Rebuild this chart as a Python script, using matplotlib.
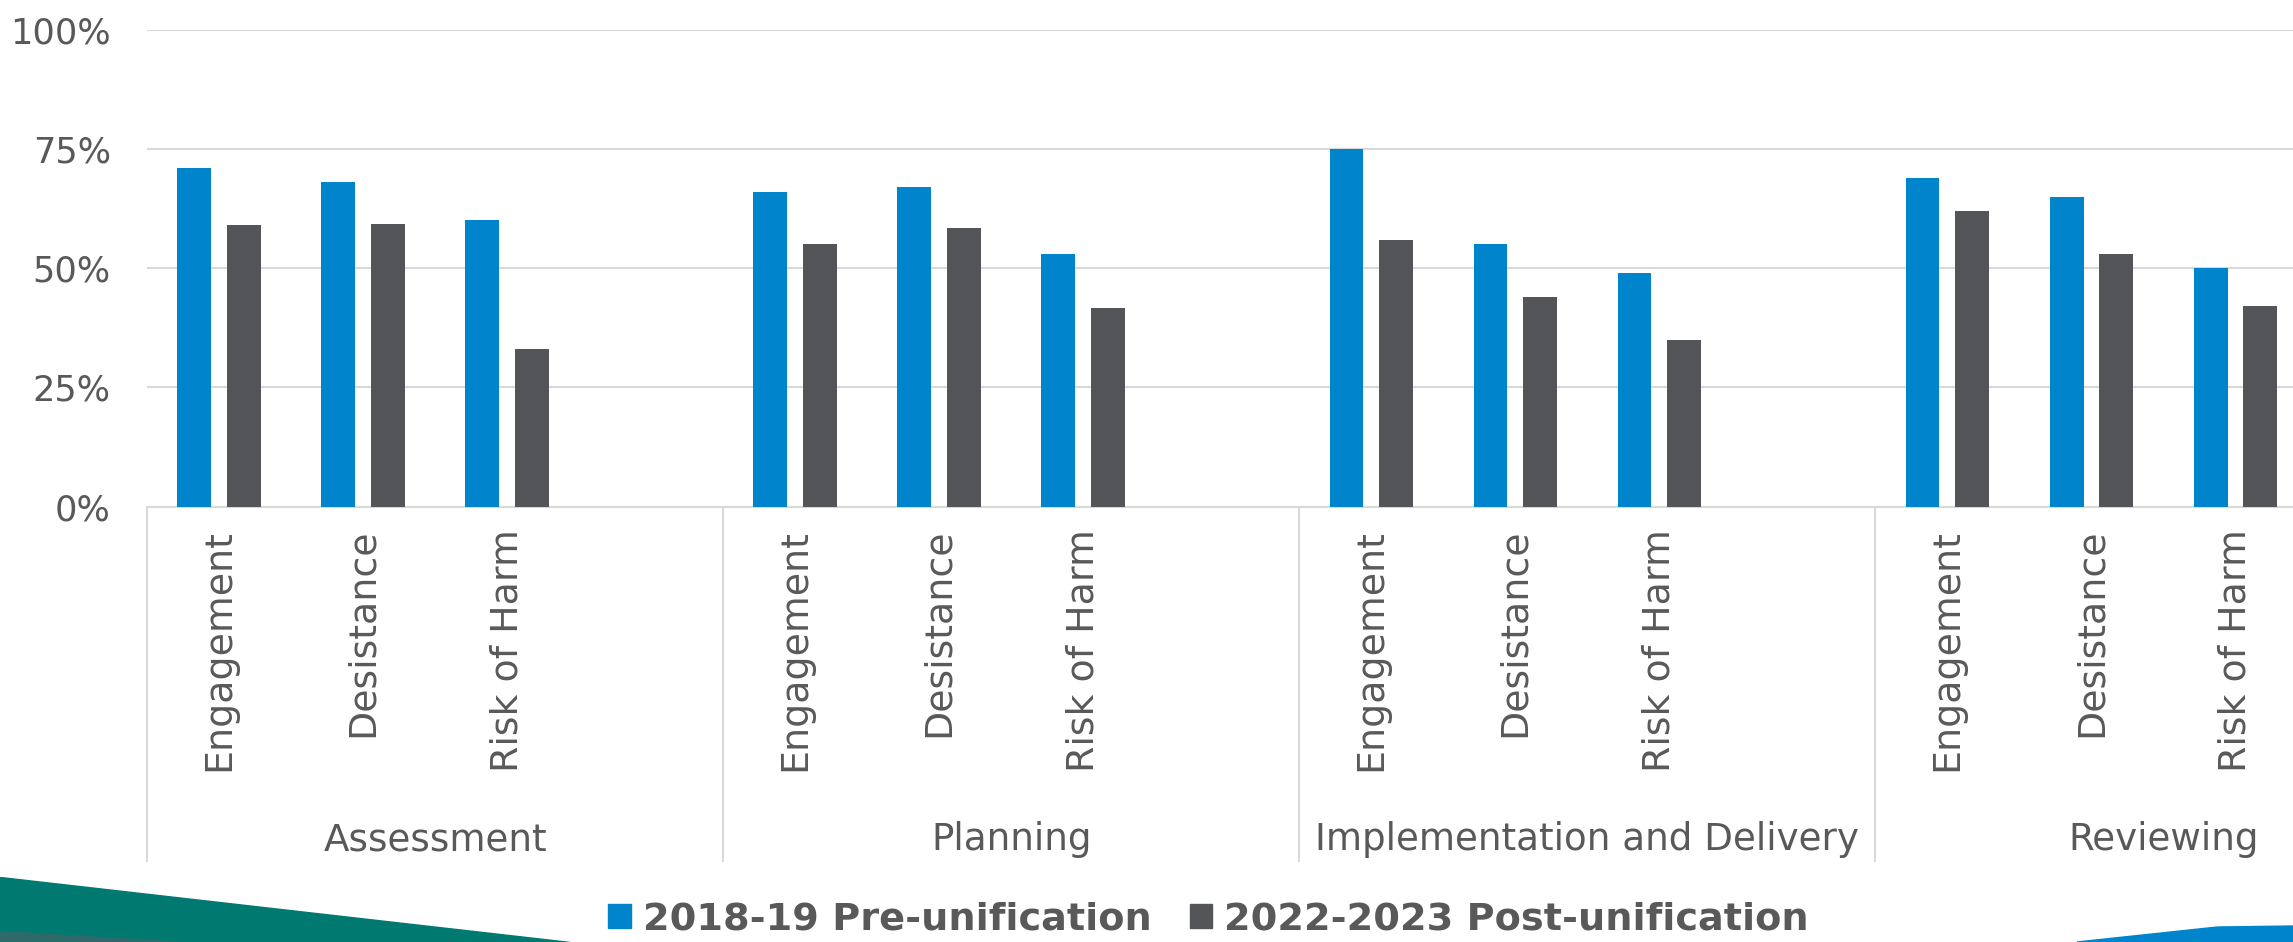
import matplotlib
matplotlib.use('Agg')
import matplotlib.pyplot as plt
from matplotlib.patches import Patch, Polygon
import matplotlib.transforms as mtransforms
import numpy as np

groups = ['Assessment', 'Planning', 'Implementation and Delivery', 'Reviewing']
measures = ['Engagement', 'Desistance', 'Risk of Harm']
pre_unification = [71, 68, 60, 66, 67, 53, 75, 55, 49, 69, 65, 50]
post_unification = [59, 59.3, 33, 55, 58.5, 41.6, 56, 44, 35, 62, 53, 42]
series_labels = ['2018-19 Pre-unification', '2022-2023 Post-unification']
yticks = [0, 25, 50, 75, 100]

blue = '#0085CC'
grey = '#545559'
text_col = '#595959'
grid_col = '#D9D9D9'

plt.rcParams['font.family'] = ['DejaVu Sans']

fig = plt.figure(figsize=(22.93, 9.42), dpi=100)
ax = fig.add_axes([0.0641, 0.4623, 0.9359, 0.5061])

# each group has 3 measures + one empty slot
slots_per_group = len(measures) + 1
x = np.array([g * slots_per_group + m for g in range(len(groups)) for m in range(len(measures))])

width = 0.235
off = 0.172
ax.bar(x - off, pre_unification, width, color=blue, zorder=3)
ax.bar(x + off, post_unification, width, color=grey, zorder=3)

ax.set_ylim(0, 100)
ax.set_xlim(-0.5, 14.4)
ax.set_yticks(yticks)
ax.set_yticklabels([f'{v}%' for v in yticks])
ax.yaxis.grid(True, color=grid_col, linewidth=1.5, zorder=0)
ax.tick_params(axis='y', length=0, pad=26, labelsize=25.3, labelcolor=text_col)
for s in ['left', 'right', 'top']:
    ax.spines[s].set_visible(False)
ax.spines['bottom'].set_color(grid_col)
ax.spines['bottom'].set_linewidth(1.5)

ax.set_xticks(x)
ax.set_xticklabels(measures * len(groups), rotation=90)
ax.tick_params(axis='x', length=0, pad=16, labelsize=27.3, labelcolor=text_col)

# group separators and group labels below the measure labels
trans = mtransforms.blended_transform_factory(ax.transData, ax.transAxes)
bounds = [g * slots_per_group - 0.5 for g in range(len(groups))]
ax.vlines(bounds, -0.745, 0, transform=trans, color=grid_col, linewidth=1.5, clip_on=False)
for g, name in enumerate(groups):
    ax.text(g * slots_per_group + (slots_per_group - 1) / 2, -0.7205, name, transform=trans,
            ha='center', va='baseline', fontsize=26.8, color=text_col, clip_on=False)

handles = [Patch(color=blue), Patch(color=grey)]
fig.legend(handles, series_labels, loc='center', bbox_to_anchor=(0.527, 0.024), ncol=2,
           frameon=False, prop={'weight': 'bold', 'size': 27.5}, labelcolor=text_col,
           handlelength=0.6, handleheight=0.6, handletextpad=0.3, columnspacing=1.0)

# slide decoration at the bottom corners
fig.patches.append(Polygon([(0, 0.069), (0, 0), (0.2486, 0)], closed=True,
                           transform=fig.transFigure, color='#007A70', zorder=0))
fig.patches.append(Polygon([(0, 0.012), (0, 0), (0.08, 0)], closed=True,
                           transform=fig.transFigure, color='#2F6A6A', zorder=0))
fig.patches.append(Polygon([(0.9058, 0), (0.9669, 0.0159), (1, 0.017), (1, 0)], closed=True,
                           transform=fig.transFigure, color=blue, zorder=0))

fig.savefig('out.png', dpi=100)
